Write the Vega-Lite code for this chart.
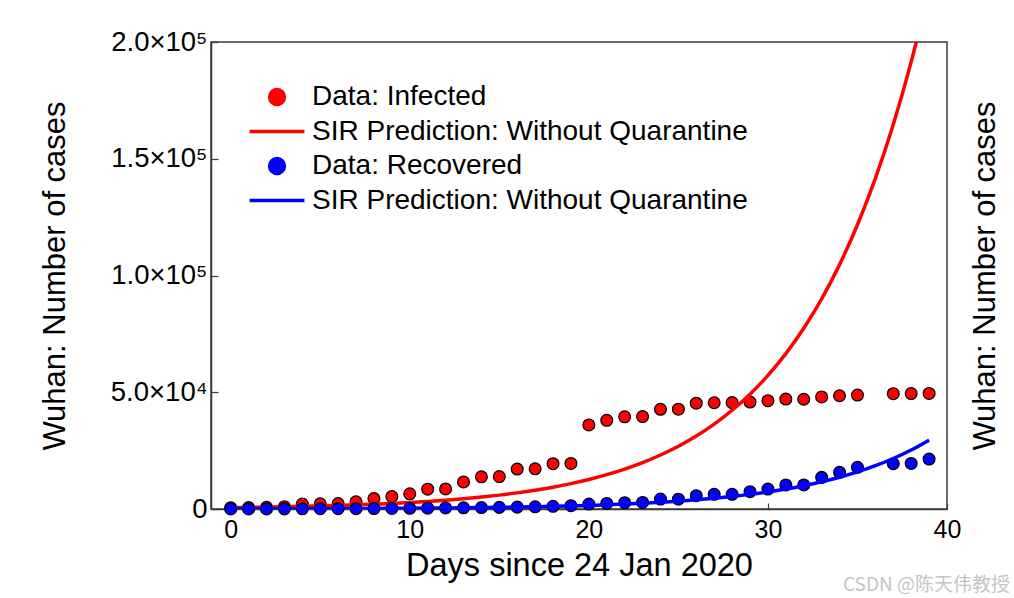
{
  "$schema": "https://vega.github.io/schema/vega-lite/v6.json",
  "width": 736,
  "height": 467,
  "autosize": "none",
  "padding": {"left": 211, "top": 42, "right": 67, "bottom": 89},
  "background": "white",
  "config": {
    "view": {"stroke": "#3a3a3a", "strokeWidth": 1.5},
    "font": "Liberation Sans",
    "axis": {"domainColor": "#3a3a3a", "domainWidth": 1.5, "tickColor": "#3a3a3a", "tickWidth": 1.2, "grid": false, "labelFont": "Liberation Sans", "titleFont": "Liberation Sans", "labelColor": "black", "titleColor": "black", "titleFontWeight": "normal"}
  },
  "title": {"text": "CSDN @陈天伟教授", "orient": "bottom", "anchor": "end", "frame": "group", "dx": 63, "dy": -6, "offset": 0, "fontSize": 19, "color": "#c4c4c4", "font": "Noto Sans CJK SC", "fontWeight": "normal"},
  "datasets": {
    "infected": [
      {"day": 0, "value": 550, "series": "Data: Infected"},
      {"day": 1, "value": 600, "series": "Data: Infected"},
      {"day": 2, "value": 700, "series": "Data: Infected"},
      {"day": 3, "value": 1000, "series": "Data: Infected"},
      {"day": 4, "value": 2100, "series": "Data: Infected"},
      {"day": 5, "value": 2200, "series": "Data: Infected"},
      {"day": 6, "value": 2300, "series": "Data: Infected"},
      {"day": 7, "value": 3100, "series": "Data: Infected"},
      {"day": 8, "value": 4500, "series": "Data: Infected"},
      {"day": 9, "value": 5300, "series": "Data: Infected"},
      {"day": 10, "value": 6500, "series": "Data: Infected"},
      {"day": 11, "value": 8500, "series": "Data: Infected"},
      {"day": 12, "value": 8600, "series": "Data: Infected"},
      {"day": 13, "value": 11600, "series": "Data: Infected"},
      {"day": 14, "value": 13800, "series": "Data: Infected"},
      {"day": 15, "value": 13900, "series": "Data: Infected"},
      {"day": 16, "value": 17100, "series": "Data: Infected"},
      {"day": 17, "value": 17200, "series": "Data: Infected"},
      {"day": 18, "value": 19400, "series": "Data: Infected"},
      {"day": 19, "value": 19500, "series": "Data: Infected"},
      {"day": 20, "value": 36000, "series": "Data: Infected"},
      {"day": 21, "value": 38000, "series": "Data: Infected"},
      {"day": 22, "value": 39500, "series": "Data: Infected"},
      {"day": 23, "value": 39600, "series": "Data: Infected"},
      {"day": 24, "value": 42700, "series": "Data: Infected"},
      {"day": 25, "value": 42750, "series": "Data: Infected"},
      {"day": 26, "value": 45300, "series": "Data: Infected"},
      {"day": 27, "value": 45500, "series": "Data: Infected"},
      {"day": 28, "value": 45550, "series": "Data: Infected"},
      {"day": 29, "value": 45800, "series": "Data: Infected"},
      {"day": 30, "value": 46400, "series": "Data: Infected"},
      {"day": 31, "value": 47100, "series": "Data: Infected"},
      {"day": 32, "value": 47000, "series": "Data: Infected"},
      {"day": 33, "value": 48000, "series": "Data: Infected"},
      {"day": 34, "value": 48500, "series": "Data: Infected"},
      {"day": 35, "value": 48800, "series": "Data: Infected"},
      {"day": 37, "value": 49400, "series": "Data: Infected"},
      {"day": 38, "value": 49450, "series": "Data: Infected"},
      {"day": 39, "value": 49500, "series": "Data: Infected"}
    ],
    "sirI": [
      {"day": 0, "value": 617, "series": "SIR Infected"},
      {"day": 1, "value": 717, "series": "SIR Infected"},
      {"day": 2, "value": 834, "series": "SIR Infected"},
      {"day": 3, "value": 970, "series": "SIR Infected"},
      {"day": 4, "value": 1128, "series": "SIR Infected"},
      {"day": 5, "value": 1312, "series": "SIR Infected"},
      {"day": 6, "value": 1526, "series": "SIR Infected"},
      {"day": 7, "value": 1775, "series": "SIR Infected"},
      {"day": 8, "value": 2065, "series": "SIR Infected"},
      {"day": 9, "value": 2401, "series": "SIR Infected"},
      {"day": 10, "value": 2792, "series": "SIR Infected"},
      {"day": 11, "value": 3247, "series": "SIR Infected"},
      {"day": 12, "value": 3777, "series": "SIR Infected"},
      {"day": 13, "value": 4392, "series": "SIR Infected"},
      {"day": 14, "value": 5108, "series": "SIR Infected"},
      {"day": 15, "value": 5941, "series": "SIR Infected"},
      {"day": 16, "value": 6909, "series": "SIR Infected"},
      {"day": 17, "value": 8035, "series": "SIR Infected"},
      {"day": 18, "value": 9345, "series": "SIR Infected"},
      {"day": 19, "value": 10870, "series": "SIR Infected"},
      {"day": 20, "value": 12640, "series": "SIR Infected"},
      {"day": 21, "value": 14700, "series": "SIR Infected"},
      {"day": 22, "value": 17100, "series": "SIR Infected"},
      {"day": 23, "value": 19880, "series": "SIR Infected"},
      {"day": 24, "value": 23120, "series": "SIR Infected"},
      {"day": 25, "value": 26890, "series": "SIR Infected"},
      {"day": 26, "value": 31270, "series": "SIR Infected"},
      {"day": 27, "value": 36370, "series": "SIR Infected"},
      {"day": 28, "value": 42300, "series": "SIR Infected"},
      {"day": 29, "value": 49190, "series": "SIR Infected"},
      {"day": 30, "value": 57210, "series": "SIR Infected"},
      {"day": 31, "value": 66530, "series": "SIR Infected"},
      {"day": 32, "value": 77380, "series": "SIR Infected"},
      {"day": 33, "value": 89990, "series": "SIR Infected"},
      {"day": 34, "value": 104660, "series": "SIR Infected"},
      {"day": 35, "value": 121720, "series": "SIR Infected"},
      {"day": 36, "value": 141560, "series": "SIR Infected"},
      {"day": 37, "value": 164630, "series": "SIR Infected"},
      {"day": 38, "value": 191470, "series": "SIR Infected"},
      {"day": 39, "value": 222680, "series": "SIR Infected"}
    ],
    "recovered": [
      {"day": 0, "value": 30, "series": "Data: Recovered"},
      {"day": 1, "value": 40, "series": "Data: Recovered"},
      {"day": 2, "value": 50, "series": "Data: Recovered"},
      {"day": 3, "value": 60, "series": "Data: Recovered"},
      {"day": 4, "value": 80, "series": "Data: Recovered"},
      {"day": 5, "value": 100, "series": "Data: Recovered"},
      {"day": 6, "value": 120, "series": "Data: Recovered"},
      {"day": 7, "value": 150, "series": "Data: Recovered"},
      {"day": 8, "value": 200, "series": "Data: Recovered"},
      {"day": 9, "value": 250, "series": "Data: Recovered"},
      {"day": 10, "value": 300, "series": "Data: Recovered"},
      {"day": 11, "value": 370, "series": "Data: Recovered"},
      {"day": 12, "value": 450, "series": "Data: Recovered"},
      {"day": 13, "value": 520, "series": "Data: Recovered"},
      {"day": 14, "value": 600, "series": "Data: Recovered"},
      {"day": 15, "value": 700, "series": "Data: Recovered"},
      {"day": 16, "value": 800, "series": "Data: Recovered"},
      {"day": 17, "value": 950, "series": "Data: Recovered"},
      {"day": 18, "value": 1150, "series": "Data: Recovered"},
      {"day": 19, "value": 1400, "series": "Data: Recovered"},
      {"day": 20, "value": 2100, "series": "Data: Recovered"},
      {"day": 21, "value": 2400, "series": "Data: Recovered"},
      {"day": 22, "value": 2700, "series": "Data: Recovered"},
      {"day": 23, "value": 2800, "series": "Data: Recovered"},
      {"day": 24, "value": 4250, "series": "Data: Recovered"},
      {"day": 25, "value": 4200, "series": "Data: Recovered"},
      {"day": 26, "value": 5700, "series": "Data: Recovered"},
      {"day": 27, "value": 6300, "series": "Data: Recovered"},
      {"day": 28, "value": 6300, "series": "Data: Recovered"},
      {"day": 29, "value": 7400, "series": "Data: Recovered"},
      {"day": 30, "value": 8550, "series": "Data: Recovered"},
      {"day": 31, "value": 10300, "series": "Data: Recovered"},
      {"day": 32, "value": 10300, "series": "Data: Recovered"},
      {"day": 33, "value": 13550, "series": "Data: Recovered"},
      {"day": 34, "value": 15700, "series": "Data: Recovered"},
      {"day": 35, "value": 17850, "series": "Data: Recovered"},
      {"day": 37, "value": 19400, "series": "Data: Recovered"},
      {"day": 38, "value": 19500, "series": "Data: Recovered"},
      {"day": 39, "value": 21400, "series": "Data: Recovered"}
    ],
    "sirR": [
      {"day": 0, "value": 70, "series": "SIR Recovered"},
      {"day": 1, "value": 82, "series": "SIR Recovered"},
      {"day": 2, "value": 95, "series": "SIR Recovered"},
      {"day": 3, "value": 111, "series": "SIR Recovered"},
      {"day": 4, "value": 130, "series": "SIR Recovered"},
      {"day": 5, "value": 152, "series": "SIR Recovered"},
      {"day": 6, "value": 177, "series": "SIR Recovered"},
      {"day": 7, "value": 207, "series": "SIR Recovered"},
      {"day": 8, "value": 242, "series": "SIR Recovered"},
      {"day": 9, "value": 282, "series": "SIR Recovered"},
      {"day": 10, "value": 329, "series": "SIR Recovered"},
      {"day": 11, "value": 385, "series": "SIR Recovered"},
      {"day": 12, "value": 449, "series": "SIR Recovered"},
      {"day": 13, "value": 524, "series": "SIR Recovered"},
      {"day": 14, "value": 612, "series": "SIR Recovered"},
      {"day": 15, "value": 715, "series": "SIR Recovered"},
      {"day": 16, "value": 835, "series": "SIR Recovered"},
      {"day": 17, "value": 975, "series": "SIR Recovered"},
      {"day": 18, "value": 1140, "series": "SIR Recovered"},
      {"day": 19, "value": 1330, "series": "SIR Recovered"},
      {"day": 20, "value": 1550, "series": "SIR Recovered"},
      {"day": 21, "value": 1810, "series": "SIR Recovered"},
      {"day": 22, "value": 2115, "series": "SIR Recovered"},
      {"day": 23, "value": 2470, "series": "SIR Recovered"},
      {"day": 24, "value": 2880, "series": "SIR Recovered"},
      {"day": 25, "value": 3370, "series": "SIR Recovered"},
      {"day": 26, "value": 3930, "series": "SIR Recovered"},
      {"day": 27, "value": 4590, "series": "SIR Recovered"},
      {"day": 28, "value": 5360, "series": "SIR Recovered"},
      {"day": 29, "value": 6260, "series": "SIR Recovered"},
      {"day": 30, "value": 7310, "series": "SIR Recovered"},
      {"day": 31, "value": 8540, "series": "SIR Recovered"},
      {"day": 32, "value": 9970, "series": "SIR Recovered"},
      {"day": 33, "value": 11640, "series": "SIR Recovered"},
      {"day": 34, "value": 13590, "series": "SIR Recovered"},
      {"day": 35, "value": 15870, "series": "SIR Recovered"},
      {"day": 36, "value": 18530, "series": "SIR Recovered"},
      {"day": 37, "value": 21630, "series": "SIR Recovered"},
      {"day": 38, "value": 25260, "series": "SIR Recovered"},
      {"day": 39, "value": 29500, "series": "SIR Recovered"}
    ]
  },
  "layer": [
    {
      "data": {"name": "infected"},
      "mark": {"type": "point", "filled": true, "stroke": "black", "strokeWidth": 1.2, "size": 140, "opacity": 1},
      "encoding": {
        "x": {"field": "day", "type": "quantitative", "scale": {"domain": [-1.1, 40], "nice": false, "zero": false},
          "axis": {"values": [0, 10, 20, 30, 40], "labelFontSize": 25, "tickSize": -6, "labelPadding": 14, "labelFlush": false,
            "title": "Days since 24 Jan 2020", "titleFontSize": 32.5, "titleY": 56, "titleBaseline": "middle"}},
        "y": {"field": "value", "type": "quantitative", "scale": {"domain": [0, 200000], "nice": false},
          "axis": {"orient": "left", "values": [0, 50000, 100000, 150000, 200000],
            "labelExpr": "datum.value == 0 ? '0' : datum.value == 50000 ? '5.0×10⁴' : datum.value == 100000 ? '1.0×10⁵' : datum.value == 150000 ? '1.5×10⁵' : '2.0×10⁵'",
            "labelFontSize": 27.5, "tickSize": -7, "labelPadding": 11, "labelFlush": false, "labelBaseline": "middle",
            "title": "Wuhan: Number of cases", "titleFontSize": 31, "titleX": -156, "titleY": 233.5, "titleAngle": -90, "titleAlign": "center", "titleBaseline": "middle"}},
        "color": {"field": "series", "type": "nominal",
          "scale": {"domain": ["Data: Infected", "SIR Infected", "Data: Recovered", "SIR Recovered"], "range": ["#ff0000", "#ff0000", "#0000ff", "#0000ff"]},
          "legend": {"orient": "none", "legendX": 52, "legendY": 41, "title": null, "labelFont": "Liberation Sans", "labelFontSize": 28, "labelColor": "black", "labelLimit": 0,
            "labelExpr": "(datum.label == 'SIR Infected' || datum.label == 'SIR Recovered') ? 'SIR Prediction: Without Quarantine' : datum.label",
            "symbolSize": 220, "symbolStrokeWidth": 3.5, "symbolOpacity": 1, "rowPadding": 5.5, "labelOffset": 21}},
        "shape": {"field": "series", "type": "nominal",
          "scale": {"domain": ["Data: Infected", "SIR Infected", "Data: Recovered", "SIR Recovered"], "range": ["circle", "M-3.7,0H3.7", "circle", "M-3.7,0H3.7"]}}
      }
    },
    {
      "data": {"name": "sirI"},
      "mark": {"type": "line", "strokeWidth": 3.5, "clip": true, "interpolate": "monotone"},
      "encoding": {
        "x": {"field": "day", "type": "quantitative"},
        "y": {"field": "value", "type": "quantitative",
          "axis": {"orient": "right", "labels": false, "ticks": false, "domain": false,
            "title": "Wuhan: Number of cases", "titleFontSize": 31, "titleX": 38, "titleY": 233.5, "titleAngle": -90, "titleAlign": "center", "titleBaseline": "middle"}},
        "color": {"field": "series", "type": "nominal"}
      }
    },
    {
      "data": {"name": "recovered"},
      "mark": {"type": "point", "filled": true, "stroke": "black", "strokeWidth": 1.2, "size": 140, "opacity": 1},
      "encoding": {
        "x": {"field": "day", "type": "quantitative"},
        "y": {"field": "value", "type": "quantitative", "axis": null},
        "color": {"field": "series", "type": "nominal"},
        "shape": {"field": "series", "type": "nominal"}
      }
    },
    {
      "data": {"name": "sirR"},
      "mark": {"type": "line", "strokeWidth": 3.5, "clip": true, "interpolate": "monotone"},
      "encoding": {
        "x": {"field": "day", "type": "quantitative"},
        "y": {"field": "value", "type": "quantitative", "axis": null},
        "color": {"field": "series", "type": "nominal"}
      }
    }
  ],
  "resolve": {"axis": {"y": "independent"}}
}
